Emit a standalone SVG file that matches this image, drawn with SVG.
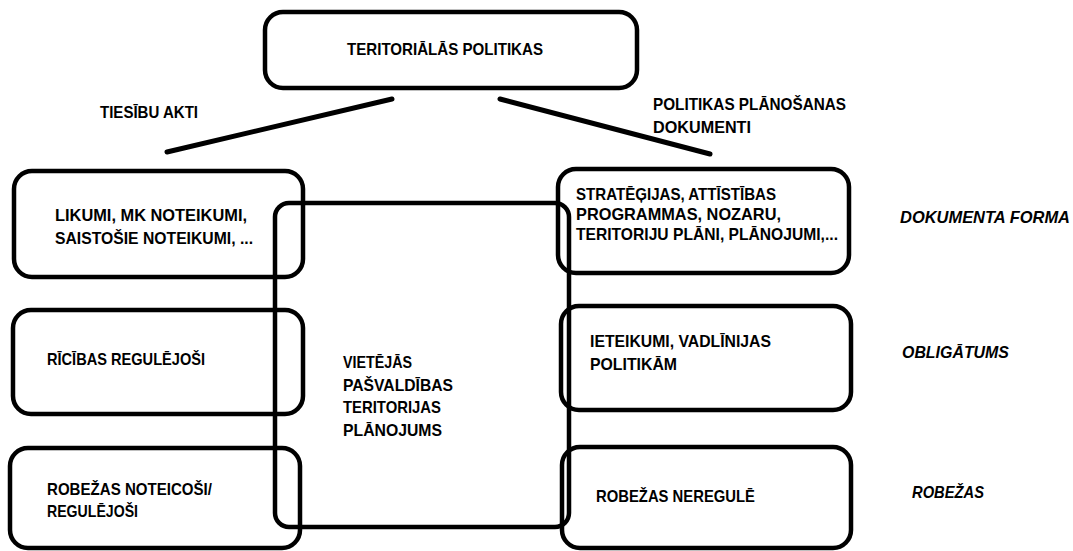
<svg xmlns="http://www.w3.org/2000/svg" width="1073" height="551" viewBox="0 0 1073 551">
<style>
.box{fill:none;stroke:#000;stroke-width:4.5}
.t{font-family:"Liberation Sans",Arial,sans-serif;font-weight:bold;font-size:16.5px;fill:#000}
.i{font-style:italic}
.ln{stroke:#000;stroke-width:5;stroke-linecap:round;fill:none}
</style>
<rect width="1073" height="551" fill="#fff"/>
<g id="connectors">
<line class="ln" x1="392" y1="99" x2="167" y2="152"/>
<line class="ln" x1="500" y1="99" x2="710" y2="154"/>
</g>
<g id="top">
<rect class="box" x="265" y="12" width="372" height="76" rx="18"/>
<text class="t" x="347" y="55" textLength="196" lengthAdjust="spacingAndGlyphs">TERITORIĀLĀS POLITIKAS</text>
</g>
<g id="label-tiesibu">
<text class="t" x="100" y="118" textLength="98" lengthAdjust="spacingAndGlyphs">TIESĪBU AKTI</text>
</g>
<g id="label-politikas">
<text class="t" x="653" y="110" textLength="193" lengthAdjust="spacingAndGlyphs">POLITIKAS PLĀNOŠANAS</text>
<text class="t" x="653" y="133" textLength="98" lengthAdjust="spacingAndGlyphs">DOKUMENTI</text>
</g>
<g id="left1">
<rect class="box" x="14" y="171" width="289" height="106" rx="18"/>
<text class="t" x="55" y="221" textLength="192" lengthAdjust="spacingAndGlyphs">LIKUMI, MK NOTEIKUMI,</text>
<text class="t" x="55" y="244" textLength="198" lengthAdjust="spacingAndGlyphs">SAISTOŠIE NOTEIKUMI, ...</text>
</g>
<g id="left2">
<rect class="box" x="13" y="310" width="290" height="104" rx="18"/>
<text class="t" x="47" y="365" textLength="158" lengthAdjust="spacingAndGlyphs">RĪCĪBAS REGULĒJOŠI</text>
</g>
<g id="left3">
<rect class="box" x="10" y="448" width="290" height="100" rx="18"/>
<text class="t" x="47" y="495" textLength="165" lengthAdjust="spacingAndGlyphs">ROBEŽAS NOTEICOŠI/</text>
<text class="t" x="47" y="517" textLength="91" lengthAdjust="spacingAndGlyphs">REGULĒJOŠI</text>
</g>
<g id="center">
<rect class="box" x="275" y="203" width="294" height="324" rx="14"/>
<text class="t" x="343" y="368" textLength="69" lengthAdjust="spacingAndGlyphs">VIETĒJĀS</text>
<text class="t" x="343" y="391" textLength="110" lengthAdjust="spacingAndGlyphs">PAŠVALDĪBAS</text>
<text class="t" x="343" y="413" textLength="98" lengthAdjust="spacingAndGlyphs">TERITORIJAS</text>
<text class="t" x="343" y="436" textLength="99" lengthAdjust="spacingAndGlyphs">PLĀNOJUMS</text>
</g>
<g id="right1">
<rect class="box" x="558" y="169" width="291" height="104" rx="18"/>
<text class="t" x="576" y="200" textLength="200" lengthAdjust="spacingAndGlyphs">STRATĒĢIJAS, ATTĪSTĪBAS</text>
<text class="t" x="576" y="220" textLength="205" lengthAdjust="spacingAndGlyphs">PROGRAMMAS, NOZARU,</text>
<text class="t" x="576" y="240" textLength="262" lengthAdjust="spacingAndGlyphs">TERITORIJU PLĀNI, PLĀNOJUMI,...</text>
</g>
<g id="right2">
<rect class="box" x="561" y="306" width="290" height="104" rx="18"/>
<text class="t" x="590" y="347" textLength="181" lengthAdjust="spacingAndGlyphs">IETEIKUMI, VADLĪNIJAS</text>
<text class="t" x="590" y="370" textLength="87" lengthAdjust="spacingAndGlyphs">POLITIKĀM</text>
</g>
<g id="right3">
<rect class="box" x="562" y="447" width="289" height="101" rx="18"/>
<text class="t" x="596" y="502" textLength="159" lengthAdjust="spacingAndGlyphs">ROBEŽAS NEREGULĒ</text>
</g>
<g id="labels-right">
<text class="t i" x="900" y="223" textLength="170" lengthAdjust="spacingAndGlyphs">DOKUMENTA FORMA</text>
<text class="t i" x="902" y="358" textLength="107" lengthAdjust="spacingAndGlyphs">OBLIGĀTUMS</text>
<text class="t i" x="912" y="498" textLength="72" lengthAdjust="spacingAndGlyphs">ROBEŽAS</text>
</g>
</svg>
